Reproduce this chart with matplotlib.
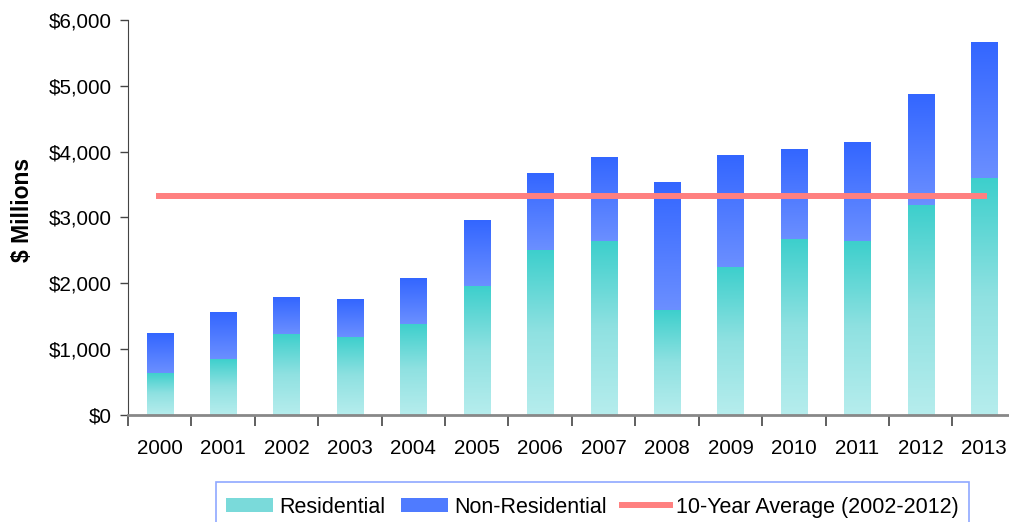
import numpy as np
import matplotlib
matplotlib.use("Agg")
import matplotlib.pyplot as plt
from matplotlib.colors import LinearSegmentedColormap
from matplotlib.patches import Patch, Rectangle
from matplotlib.lines import Line2D
from matplotlib.ticker import FuncFormatter, MultipleLocator

plt.rcParams['font.family'] = ['Liberation Sans', 'DejaVu Sans']

years = ["2000", "2001", "2002", "2003", "2004", "2005", "2006",
         "2007", "2008", "2009", "2010", "2011", "2012", "2013"]
residential = [638, 851, 1231, 1185, 1383, 1960, 2508,
               2644, 1596, 2249, 2675, 2644, 3191, 3602]
non_residential = [593, 699, 547, 563, 684, 988, 1155,
                   1262, 1930, 1687, 1352, 1490, 1672, 2051]
ten_year_avg = 3328

res_cmap = LinearSegmentedColormap.from_list("res", ["#b6eded", "#8fe1e1", "#3ccfcc"])
nonres_cmap = LinearSegmentedColormap.from_list("nonres", ["#6b8fff", "#3366ff"])

W, H = 1009, 522
fig = plt.figure(figsize=(W / 100, H / 100), dpi=100)
ax = fig.add_axes([0.1268, 0.205, 0.880, 0.7567])

x = np.arange(len(years))
width = 0.41
res_bars = ax.bar(x, residential, width, color="none", zorder=2)
non_bars = ax.bar(x, non_residential, width, bottom=residential, color="none", zorder=2)

grad = np.linspace(0, 1, 256).reshape(-1, 1)


def fill_gradient(bars, cmap):
    for b in bars:
        x0, y0 = b.get_x(), b.get_y()
        w, h = b.get_width(), b.get_height()
        ax.imshow(grad, cmap=cmap, origin="lower", aspect="auto",
                  extent=[x0, x0 + w, y0, y0 + h], zorder=2,
                  interpolation="bilinear")


fill_gradient(res_bars, res_cmap)
fill_gradient(non_bars, nonres_cmap)

ax.plot([x[0] - 0.05, x[-1] + 0.05], [ten_year_avg, ten_year_avg],
        color="#ff8080", lw=4.3, solid_capstyle="butt", zorder=3)

ax.set_xlim(-0.5, len(years) - 0.5)
ax.set_ylim(0, 6000)
ax.yaxis.set_major_locator(MultipleLocator(1000))
ax.yaxis.set_major_formatter(FuncFormatter(lambda v, p: f"${v:,.0f}"))
ax.set_xticks(x)
ax.set_xticklabels(years)
ax.set_xticks(np.arange(-0.5, len(years), 1.0), minor=True)
ax.tick_params(axis="x", which="major", length=0, pad=17, labelsize=14.8)
ax.tick_params(axis="x", which="minor", length=8, width=1.2, color="#444444")
ax.tick_params(axis="y", length=6, width=1.0, color="#444444", labelsize=14.8, pad=5.5)

for s in ("top", "right"):
    ax.spines[s].set_visible(False)
ax.spines["left"].set_color("#444444")
ax.spines["bottom"].set_color("#888888")
ax.spines["bottom"].set_linewidth(2)

fig.text(23 / W, 1 - 210 / H, "$ Millions", rotation=90,
         ha="center", va="center", fontsize=16.5, fontweight="bold")

# legend box, open at the bottom edge of the figure
fig.patches.append(Rectangle((216 / W, -0.05), (969 - 216) / W, 0.05 + 1 - 482 / H,
                             transform=fig.transFigure, facecolor="white",
                             edgecolor="#8fa8ff", linewidth=1.2, zorder=1))

handles = [Patch(facecolor="#7adada", edgecolor="none"),
           Patch(facecolor="#4f7bff", edgecolor="none"),
           Line2D([0], [0], color="#ff8080", lw=4.3)]
labels = ["Residential", "Non-Residential", "10-Year Average (2002-2012)"]
leg = fig.legend(handles, labels, loc="upper left",
                 bbox_to_anchor=(216 / W, 1 - 487 / H),
                 ncol=3, fontsize=15.5, frameon=False,
                 handlelength=2.2, handleheight=0.65, handletextpad=0.28,
                 columnspacing=0.72, borderpad=0.45, borderaxespad=0)
leg.set_zorder(2)

fig.savefig("out.png", dpi=100)
